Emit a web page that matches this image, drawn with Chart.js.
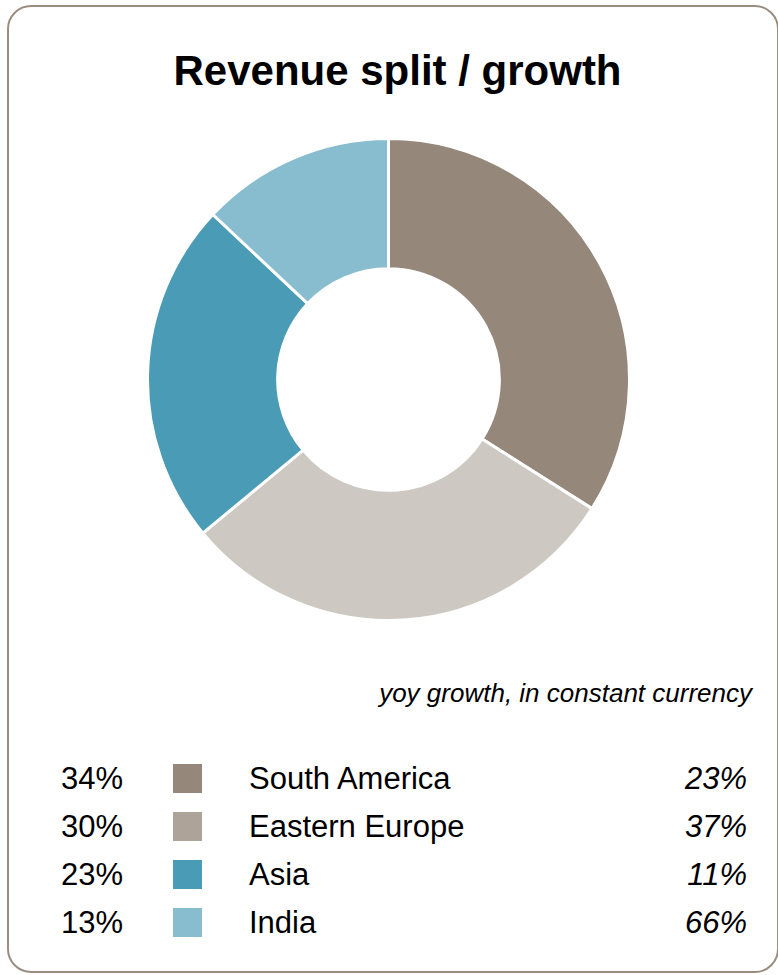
<!DOCTYPE html>
<html>
<head>
<meta charset="utf-8">
<script src="https://cdn.jsdelivr.net/npm/chart.js@4"></script>
<style>
  html, body { margin: 0; padding: 0; background: #fff; }
  body { width: 778px; height: 975px; position: relative; overflow: hidden; font-family: "Liberation Sans", Arial, sans-serif; color: #000; }
  .frame { position: absolute; left: 7px; top: 5px; width: 768px; height: 964px; border: 2px solid #9a8d80; border-radius: 24px; }
  .title { position: absolute; left: 0; width: 795px; top: 50px; text-align: center; font-size: 42px; font-weight: bold; line-height: 42px; }
  .pie { position: absolute; left: 146px; top: 137px; width: 485px; height: 485px; }
  .note { position: absolute; right: 26px; top: 675px; font-size: 26px; font-style: italic; line-height: 36px; }
  .legend { position: absolute; left: 0; top: 755px; width: 778px; }
  .row { position: relative; height: 48px; font-size: 31px; line-height: 48px; }
  .row .share { position: absolute; left: 61px; }
  .row .box { position: absolute; left: 173px; top: 9px; width: 29px; height: 29px; }
  .row .name { position: absolute; left: 249px; }
  .row .growth { position: absolute; right: 31px; font-style: italic; }
</style>
</head>
<body>
<div class="frame"></div>
<div class="title">Revenue split / growth</div>
<div class="pie"><canvas id="revenueChart"></canvas></div>
<div class="note">yoy growth, in constant currency</div>
<div class="legend" id="legend"></div>
<script>
const regions = ["South America", "Eastern Europe", "Asia", "India"];
const shares = [34, 30, 23, 13];
const growth = [23, 37, 11, 66];
const sliceColors = ["#958779", "#cdc8c2", "#4a9bb5", "#88bdd0"];
const boxColors = ["#958779", "#aea398", "#4a9bb5", "#88bdd0"];

const legend = document.getElementById("legend");
regions.forEach((name, i) => {
    const row = document.createElement("div");
    row.className = "row";
    row.innerHTML =
        '<span class="share">' + shares[i] + '%</span>' +
        '<span class="box" style="background:' + boxColors[i] + '"></span>' +
        '<span class="name">' + name + '</span>' +
        '<span class="growth">' + growth[i] + '%</span>';
    legend.appendChild(row);
});

const ctx = document.getElementById("revenueChart").getContext("2d");
new Chart(ctx, {
    type: "doughnut",
    data: {
        labels: regions,
        datasets: [{
            data: shares,
            backgroundColor: sliceColors,
            borderColor: "#ffffff",
            borderWidth: 3
        }]
    },
    options: {
        responsive: true,
        maintainAspectRatio: false,
        animation: false,
        cutout: "46%",
        layout: { padding: 0 },
        plugins: {
            legend: { display: false },
            tooltip: { enabled: false }
        }
    }
});
</script>
</body>
</html>
